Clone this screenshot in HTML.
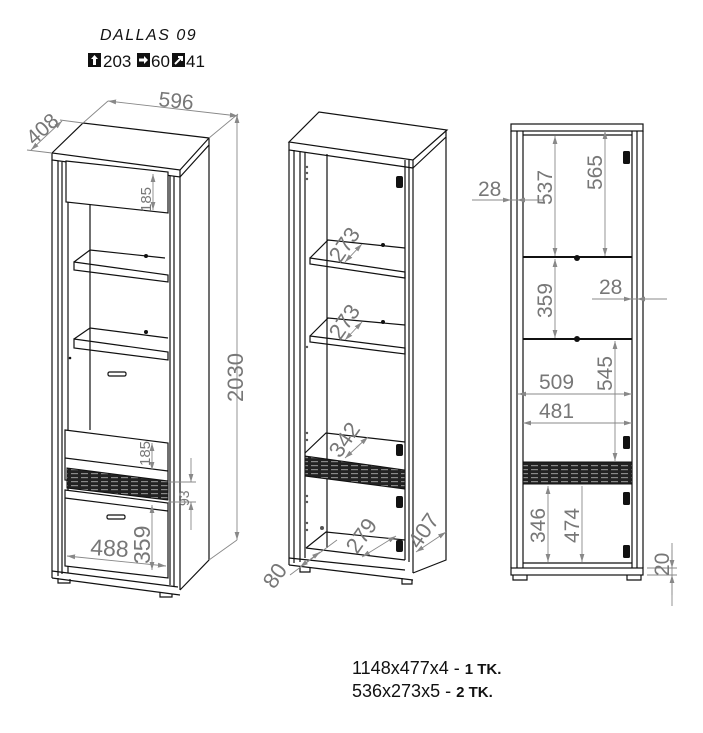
<!DOCTYPE html>
<html><head><meta charset="utf-8"><style>
html,body{margin:0;padding:0;background:#fff;width:703px;height:733px;overflow:hidden}
svg{display:block}
.k{stroke:#111;stroke-width:1.2;fill:none}
.kf{stroke:#111;stroke-width:1.2;fill:#fff}
.d{stroke:#888;stroke-width:.9;fill:none}
.dt{fill:#777;font-family:"Liberation Sans",sans-serif;font-size:21px}
</style></head><body>
<svg width="703" height="733" viewBox="0 0 703 733" xmlns="http://www.w3.org/2000/svg">
<defs>
<marker id="a" viewBox="0 0 10 10" refX="10" refY="5" markerWidth="9" markerHeight="9" orient="auto-start-reverse"><path d="M0,2 L10,5 L0,8 z" fill="#888"/></marker>
<pattern id="g" width="10" height="4" patternUnits="userSpaceOnUse"><rect width="10" height="4" fill="#222"/><rect x="1" y="1" width="7" height="1.2" fill="#888"/></pattern>
</defs>

<!-- header -->
<text x="100" y="40" font-family="'Liberation Sans',sans-serif" font-size="16" font-style="italic" fill="#111" letter-spacing="1.5">DALLAS 09</text>
<rect x="88" y="53" width="13" height="14" fill="#111"/><path d="M94.5,55 L98,59 H96 V65 H93 V59 H91z" fill="#fff"/>
<text x="103" y="67" font-family="'Liberation Sans',sans-serif" font-size="17" fill="#111">203</text>
<rect x="137" y="53" width="13" height="14" fill="#111"/><path d="M139,58.5 H144 V56 L148,60 L144,64 V61.5 H139z" fill="#fff"/>
<text x="151" y="67" font-family="'Liberation Sans',sans-serif" font-size="17" fill="#111">60</text>
<rect x="172" y="53" width="13" height="14" fill="#111"/><path d="M175,64 L181,58 M178,57 H182 V61" stroke="#fff" stroke-width="2" fill="none"/>
<text x="186" y="67" font-family="'Liberation Sans',sans-serif" font-size="17" fill="#111">41</text>

<!-- ===== LEFT CABINET ===== -->
<path class="kf" d="M52,153 L83,123 L209,138 L180,170 Z"/>
<path class="k" d="M52,153 V160 L180,177 V170 M180,177 L209,145 V138"/>
<path class="k" d="M180,177 V590 M209,145 V560 L180,590"/>
<path class="k" d="M52,160 V578 M58,161 V576 M62,162 V574 M68,163 V573 M170,176 V585 M174,176 V586"/>
<path class="k" d="M52,578 L180,595 M52,571 L178,587"/>
<path class="k" d="M58,578 v5 h12 v-4 M160,592 v5 h12 v-3"/>
<path class="kf" d="M66,161 L168,172 V213 L66,202 Z"/>
<path class="k" d="M90,205 V430 M74,262 L90,250 L165,258 M74,262 L168,275 V282 L74,270 Z M74,339 L90,328 L168,338 M74,339 L168,352 V360 L74,348 Z"/>
<circle cx="146" cy="256" r="2" fill="#111"/><circle cx="146" cy="332" r="2" fill="#111"/><circle cx="70" cy="358" r="1.3" fill="#111"/>
<rect x="108" y="372" width="18" height="4" rx="1.5" class="kf"/>
<path class="kf" d="M65,430 L168,443 V492 L65,480 Z"/>
<path class="k" d="M65,458 L168,471"/>
<path d="M67,468 L168,481 V500 L67,488 Z" fill="url(#g)" stroke="#111"/>
<path class="kf" d="M65,490 L168,503 V578 L65,566 Z"/>
<path class="k" d="M65,498 L168,511"/>
<rect x="107" y="515" width="18" height="4" rx="1.5" class="kf"/>
<!-- dims -->
<path class="d" d="M83,123 L108,101 M209,138 L238,114"/>
<line class="d" x1="108" y1="101" x2="238" y2="116" marker-start="url(#a)" marker-end="url(#a)"/>
<text class="dt" transform="translate(158,106) rotate(6)">596</text>
<path class="d" d="M52,153 L27,150 M83,123 L60,120"/>
<line class="d" x1="31" y1="150" x2="62" y2="121" marker-start="url(#a)" marker-end="url(#a)"/>
<text class="dt" transform="translate(34,146) rotate(-42)">408</text>
<line class="d" x1="237" y1="115" x2="237" y2="540" marker-start="url(#a)" marker-end="url(#a)"/>
<path class="d" d="M209,560 L237,540"/>
<text class="dt" style="font-size:22px" transform="translate(243,402) rotate(-90)">2030</text>
<line class="d" x1="153" y1="174" x2="153" y2="210" marker-start="url(#a)" marker-end="url(#a)"/>
<text class="dt" style="font-size:15px" transform="translate(151,212) rotate(-90)">185</text>
<line class="d" x1="152" y1="443" x2="152" y2="470" marker-start="url(#a)" marker-end="url(#a)"/>
<text class="dt" style="font-size:15px" transform="translate(150,466) rotate(-90)">185</text>
<path class="d" d="M168,482 H196 M168,502 H196"/>
<line class="d" x1="191" y1="458" x2="191" y2="482" marker-end="url(#a)"/>
<line class="d" x1="191" y1="530" x2="191" y2="502" marker-end="url(#a)"/>
<text class="dt" style="font-size:14px" transform="translate(189,506) rotate(-90)">93</text>
<line class="d" x1="152" y1="505" x2="152" y2="570" marker-start="url(#a)" marker-end="url(#a)"/>
<text class="dt" style="font-size:23px" transform="translate(150,564) rotate(-90)">359</text>
<line class="d" x1="67" y1="556" x2="166" y2="566" marker-start="url(#a)" marker-end="url(#a)"/>
<text class="dt" style="font-size:23px" transform="translate(90,555) rotate(3)">488</text>

<!-- ===== MIDDLE CABINET ===== -->
<path class="kf" d="M289,142 L319,112 L447,130 L413,160 Z"/>
<path class="k" d="M289,142 V150 L413,168 V160 M413,168 L446,137 V130"/>
<path class="k" d="M413,168 V573 M446,137 V560 L413,573"/>
<path class="k" d="M289,150 V565 M294,150 V563 M300,151 V562 M305,152 V558 M405,160 V560 M409,160 V562"/>
<path class="k" d="M327,154 V548"/>
<path class="k" d="M310,258 L328,240 L405,248 M310,258 L405,272 V278 L310,264 Z M310,336 L328,318 L405,325 M310,336 L405,348 V354 L310,342 Z"/>
<path class="k" d="M305,453 L326,433 L405,442"/>
<path d="M305,456 L405,470 V489 L305,476 Z" fill="url(#g)" stroke="#111"/>
<path class="k" d="M306,548 L326,532 L405,540 M306,548 L405,560 M289,565 L413,580 M289,558 L405,570"/>
<path class="k" d="M300,566 v6 h10 v-4 M402,578 v6 h10 v-4"/>
<circle cx="383" cy="245" r="2" fill="#111"/><circle cx="383" cy="322" r="2" fill="#111"/>
<g fill="#111"><rect x="396" y="176" width="7" height="12" rx="2"/><rect x="396" y="444" width="7" height="12" rx="2"/><rect x="396" y="496" width="7" height="12" rx="2"/><rect x="396" y="540" width="7" height="12" rx="2"/></g>
<g fill="#555"><circle cx="307" cy="167" r="1.2"/><circle cx="307" cy="173" r="1.2"/><circle cx="307" cy="179" r="1.2"/><circle cx="307" cy="347" r="1.2"/><circle cx="307" cy="433" r="1.2"/><circle cx="307" cy="440" r="1.2"/><circle cx="307" cy="496" r="1.2"/><circle cx="307" cy="502" r="1.2"/><circle cx="307" cy="523" r="1.2"/><circle cx="307" cy="530" r="1.2"/><circle cx="322" cy="528" r="2"/></g>
<line class="d" x1="345" y1="262" x2="362" y2="244" marker-start="url(#a)" marker-end="url(#a)"/>
<text class="dt" style="font-size:22px" transform="translate(340,264) rotate(-55)">273</text>
<line class="d" x1="345" y1="340" x2="362" y2="322" marker-start="url(#a)" marker-end="url(#a)"/>
<text class="dt" style="font-size:22px" transform="translate(340,341) rotate(-55)">273</text>
<line class="d" x1="345" y1="458" x2="368" y2="437" marker-start="url(#a)" marker-end="url(#a)"/>
<text class="dt" style="font-size:22px" transform="translate(340,459) rotate(-55)">342</text>
<line class="d" x1="362" y1="557" x2="396" y2="536" marker-start="url(#a)" marker-end="url(#a)"/>
<text class="dt" style="font-size:22px" transform="translate(357,555) rotate(-55)">279</text>
<line class="d" x1="290" y1="575" x2="337" y2="540" />
<line class="d" x1="300" y1="567" x2="320" y2="552" marker-start="url(#a)" marker-end="url(#a)"/>
<text class="dt" style="font-size:22px" transform="translate(274,590) rotate(-55)">80</text>
<line class="d" x1="416" y1="552" x2="446" y2="532" marker-start="url(#a)" marker-end="url(#a)"/>
<text class="dt" style="font-size:22px" transform="translate(419,550) rotate(-55)">407</text>

<!-- ===== RIGHT CABINET (front) ===== -->
<rect class="kf" x="511" y="124" width="132" height="7"/>
<path class="k" d="M511,131 V568 M517,131 V568 M523,131 V568 M632,131 V568 M637,131 V568 M643,131 V568 M523,135 H632"/>
<rect class="kf" x="511" y="568" width="132" height="7"/>
<path class="k" d="M513,575 v5 h14 v-5 M627,575 v5 h14 v-5 M523,563 H632"/>
<path d="M523,257 H632 M523,339 H632" stroke="#111" stroke-width="2"/>
<circle cx="577" cy="258" r="3" fill="#111"/><circle cx="577" cy="339" r="3" fill="#111"/>
<rect x="523" y="462" width="109" height="22" fill="url(#g)" stroke="#111"/>
<g fill="#111"><rect x="623" y="151" width="7" height="13" rx="1.5"/><rect x="623" y="436" width="7" height="13" rx="1.5"/><rect x="623" y="492" width="7" height="13" rx="1.5"/><rect x="623" y="545" width="7" height="13" rx="1.5"/></g>
<line class="d" x1="555" y1="136" x2="555" y2="256" marker-start="url(#a)" marker-end="url(#a)"/>
<text class="dt" transform="translate(552,205) rotate(-90)">537</text>
<line class="d" x1="605" y1="131" x2="605" y2="256" marker-start="url(#a)" marker-end="url(#a)"/>
<text class="dt" transform="translate(602,190) rotate(-90)">565</text>
<text class="dt" x="478" y="196">28</text>
<line class="d" x1="472" y1="200" x2="545" y2="200"/>
<line class="d" x1="497" y1="200" x2="511" y2="200" marker-end="url(#a)"/>
<line class="d" x1="535" y1="200" x2="517" y2="200" marker-end="url(#a)"/>
<line class="d" x1="555" y1="259" x2="555" y2="338" marker-start="url(#a)" marker-end="url(#a)"/>
<text class="dt" transform="translate(552,318) rotate(-90)">359</text>
<text class="dt" x="599" y="294">28</text>
<line class="d" x1="592" y1="299" x2="667" y2="299"/>
<line class="d" x1="615" y1="299" x2="632" y2="299" marker-end="url(#a)"/>
<line class="d" x1="655" y1="299" x2="637" y2="299" marker-end="url(#a)"/>
<line class="d" x1="615" y1="341" x2="615" y2="461" marker-start="url(#a)" marker-end="url(#a)"/>
<text class="dt" transform="translate(612,391) rotate(-90)">545</text>
<text class="dt" x="539" y="389">509</text>
<line class="d" x1="518" y1="394" x2="632" y2="394" marker-start="url(#a)" marker-end="url(#a)"/>
<text class="dt" x="539" y="418">481</text>
<line class="d" x1="523" y1="423" x2="632" y2="423" marker-start="url(#a)" marker-end="url(#a)"/>
<line class="d" x1="548" y1="486" x2="548" y2="562" marker-start="url(#a)" marker-end="url(#a)"/>
<text class="dt" transform="translate(545,543) rotate(-90)">346</text>
<line class="d" x1="582" y1="486" x2="582" y2="562" marker-end="url(#a)"/>
<text class="dt" transform="translate(579,543) rotate(-90)">474</text>
<path class="d" d="M647,568 H677 M647,575 H677 M672,543 V606"/>
<line class="d" x1="672" y1="550" x2="672" y2="568" marker-end="url(#a)"/>
<line class="d" x1="672" y1="595" x2="672" y2="575" marker-end="url(#a)"/>
<text class="dt" transform="translate(669,576) rotate(-90)">20</text>

<!-- bottom text -->
<text x="352" y="674" font-family="'Liberation Sans',sans-serif" font-size="18" fill="#111">1148x477x4 - <tspan font-weight="bold" font-size="15">1 TK.</tspan></text>
<text x="352" y="697" font-family="'Liberation Sans',sans-serif" font-size="18" fill="#111">536x273x5 - <tspan font-weight="bold" font-size="15">2 TK.</tspan></text>
</svg>
</body></html>
